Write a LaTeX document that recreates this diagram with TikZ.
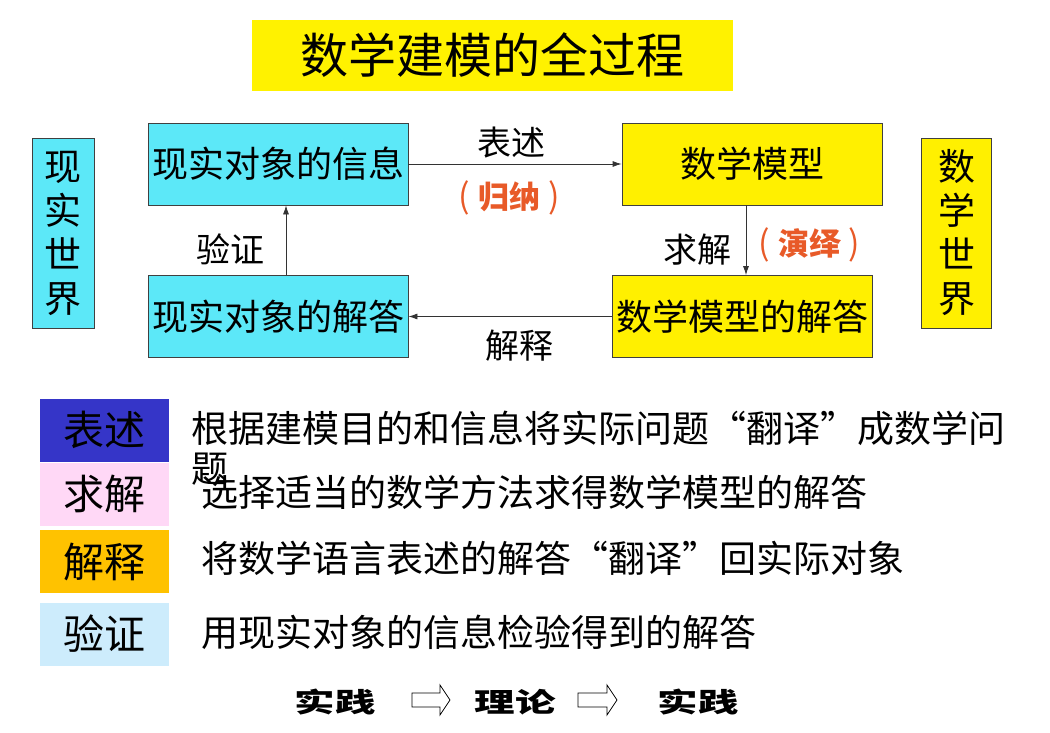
\documentclass[tikz,border=0pt]{standalone}
\usepackage{fontspec}
\setmainfont{Noto Sans CJK SC}
\usetikzlibrary{arrows.meta}
\definecolor{ttlyellow}{HTML}{FFF200}
\definecolor{boxcyan}{HTML}{5CE8F8}
\definecolor{boxyellow}{HTML}{FFF000}
\definecolor{lgblue}{HTML}{3535C8}
\definecolor{lgpink}{HTML}{FFD8F6}
\definecolor{lgorange}{HTML}{FFC200}
\definecolor{lgcyan}{HTML}{CDECFC}
\definecolor{orangetxt}{HTML}{E85A28}
\tikzset{
  mainbox/.style={draw=black!75, line width=0.8pt, inner sep=0pt, minimum width=260pt, minimum height=82pt, font=\fontsize{36}{40}\selectfont},
  sidebox/.style={draw=black!75, line width=0.8pt, inner sep=0pt, minimum width=62pt, minimum height=190pt, align=center, font=\fontsize{37}{44}\selectfont},
  legbox/.style={inner sep=0pt, minimum width=129pt, minimum height=63pt, font=\fontsize{41}{44}\selectfont},
  legtxt/.style={anchor=west, inner sep=0pt, font=\fontsize{37}{40}\selectfont},
  lbl/.style={inner sep=1pt, font=\fontsize{34}{38}\selectfont},
  olbl/.style={inner sep=1pt, text=orangetxt, font=\fontsize{31}{34}\selectfont\bfseries},
  conn/.style={draw=black!80, line width=0.8pt, -{Latex[length=9pt,width=6pt]}},
  hollow/.style={draw=black, line width=0.8pt, fill=white},
  btxt/.style={inner sep=0pt, font=\fontsize{27}{30}\selectfont\bfseries}
}
\newcommand{\wide}[1]{\scalebox{1.5}[1]{#1}}
\newcommand{\paren}[2]{{\mdseries\fontsize{34}{36}\selectfont(}\hspace{8pt}#1\hspace{8pt}{\mdseries\fontsize{34}{36}\selectfont)}}
\begin{document}
\begin{tikzpicture}[x=1pt,y=-1pt]
\useasboundingbox (0,0) rectangle (1050,733);
\fill[white] (0,0) rectangle (1050,733);
% title
\node[fill=ttlyellow, inner sep=0pt, minimum width=481pt, minimum height=71pt, font=\fontsize{48}{52}\selectfont] (title) at (492.5,55.5) {数学建模的全过程};
% side boxes
\node[sidebox, fill=boxcyan] (real) at (63,233) {现\\实\\世\\界};
\node[sidebox, fill=boxyellow, minimum width=70pt] (math) at (956.5,233) {数\\学\\世\\界};
% main boxes
\node[mainbox, fill=boxcyan] (info) at (278,164) {现实对象的信息};
\node[mainbox, fill=boxyellow] (model) at (752,164) {数学模型};
\node[mainbox, fill=boxcyan] (rsol) at (278,316.5) {现实对象的解答};
\node[mainbox, fill=boxyellow] (msol) at (742,316.5) {数学模型的解答};
% connectors
\draw[conn] (info.east) -- (model.west);
\draw[conn] (model.south -| 746,0) coordinate (ms) -- (msol.north -| ms);
\draw[conn] (msol.west) -- (rsol.east);
\draw[conn] (rsol.north -| 286,0) coordinate (rs) -- (info.south -| rs);
% labels
\node[lbl] (l1) at (511,143) {表述};
\node[olbl] (l1b) at (509,198) {\paren{归纳}{}};
\node[lbl] (l2) at (697,250) {求解};
\node[olbl] (l2b) at (809,245) {\paren{演绎}{}};
\node[lbl] (l3) at (519,346) {解释};
\node[lbl] (l4) at (230,249) {验证};
% legend
\node[legbox, fill=lgblue] (g1) at (104.5,430) {表述};
\node[legbox, fill=lgpink] (g2) at (104.5,494) {求解};
\node[legbox, fill=lgorange] (g3) at (104.5,561.5) {解释};
\node[legbox, fill=lgcyan] (g4) at (104.5,634) {验证};
\node[legtxt] (t1) at (191,428) {根据建模目的和信息将实际问题“翻译”成数学问};
\node[legtxt] (t1b) at (191,469) {题};
\node[legtxt] (t2) at (201,492) {选择适当的数学方法求得数学模型的解答};
\node[legtxt] (t3) at (201,558) {将数学语言表述的解答“翻译”回实际对象};
\node[legtxt] (t4) at (201,632) {用现实对象的信息检验得到的解答};
% bottom
\node[btxt] (p1) at (335,702) {\wide{实践}};
\node[btxt] (p2) at (515,702) {\wide{理论}};
\node[btxt] (p3) at (698,702) {\wide{实践}};
\draw[hollow] (412,693) -- (440,693) -- (440,685) -- (450,700) -- (440,715) -- (440,707) -- (412,707) -- cycle;
\draw[hollow] (578,693) -- (607,693) -- (607,685) -- (617,700) -- (607,715) -- (607,707) -- (578,707) -- cycle;
\end{tikzpicture}
\end{document}
